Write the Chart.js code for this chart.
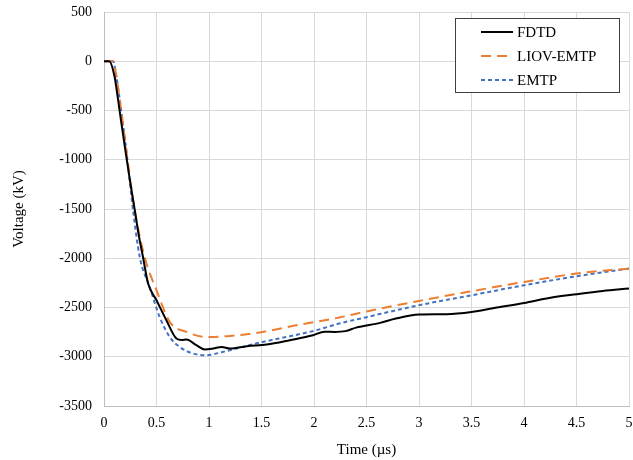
<!DOCTYPE html>
<html>
<head>
<meta charset="utf-8">
<script src="https://cdn.jsdelivr.net/npm/chart.js@4.4.1/dist/chart.umd.min.js"></script>
<style>
  html, body { margin: 0; padding: 0; background: #fff; }
  #wrap { width: 633px; height: 460px; }
</style>
</head>
<body>
<div id="wrap"><canvas id="myCanvas" width="633" height="460"></canvas></div>
<script>
// values (time in us, voltage in kV)
var fdtdTime = [0, 0.05, 0.1, 0.134, 0.166, 0.21, 0.25, 0.292, 0.33, 0.371, 0.42, 0.5, 0.594, 0.69, 0.74, 0.785, 0.88, 0.96, 1.04, 1.12, 1.2, 1.36, 1.55, 1.77, 1.99, 2.1, 2.2, 2.3, 2.4, 2.63, 2.78, 3.0, 3.26, 3.5, 3.74, 4.0, 4.24, 4.5, 4.75, 5.0];
var fdtdVolt = [0, 0, -153, -390, -630, -950, -1230, -1505, -1760, -1985, -2257, -2426, -2629, -2815, -2830, -2826, -2883, -2927, -2917, -2900, -2917, -2893, -2876, -2832, -2782, -2745, -2748, -2740, -2704, -2656, -2612, -2572, -2568, -2545, -2500, -2454, -2403, -2365, -2332, -2307];

var liovTime = [0, 0.086, 0.118, 0.15, 0.18, 0.22, 0.245, 0.31, 0.39, 0.5, 0.626, 0.785, 0.975, 1.2, 1.51, 1.83, 2.24, 2.5, 3.0, 3.5, 4.0, 4.5, 5.0];
var liovVolt = [0, 0, -153, -390, -630, -970, -1175, -1615, -2000, -2325, -2646, -2748, -2799, -2789, -2748, -2680, -2602, -2540, -2433, -2335, -2241, -2155, -2105];

var emtpTime = [0, 0.086, 0.118, 0.15, 0.18, 0.22, 0.276, 0.34, 0.435, 0.53, 0.626, 0.72, 0.85, 0.975, 1.13, 1.32, 1.51, 1.77, 2.02, 2.24, 2.5, 3.0, 3.5, 4.0, 4.5, 5.0];
var emtpVolt = [0, 0, -153, -390, -630, -970, -1505, -1985, -2291, -2596, -2799, -2900, -2968, -2985, -2951, -2900, -2850, -2792, -2731, -2663, -2598, -2477, -2376, -2274, -2183, -2105];

var seriesNames = ['FDTD', 'LIOV-EMTP', 'EMTP'];

function pts(t, v){
	return t.map(function(x, i){ return {x: x, y: v[i]}; });
}

var fontFam = '"Liberation Serif", "Times New Roman", serif';

// draws the boxed legend in the top right of the plot
var boxLegend = {
	id: 'boxLegend',
	afterDraw: function(chart){
		var ctx = chart.ctx;
		var bx = 455.5, by = 18.5, bw = 164, bh = 74;
		ctx.save();
		ctx.fillStyle = '#fff';
		ctx.fillRect(bx, by, bw, bh);
		ctx.strokeStyle = '#404040';
		ctx.lineWidth = 1;
		ctx.strokeRect(bx, by, bw, bh);
		ctx.font = '15px ' + fontFam;
		ctx.textBaseline = 'middle';
		chart.data.datasets.forEach(function(ds, i){
			var y = 32 + i * 24;
			ctx.beginPath();
			ctx.setLineDash(ds.borderDash || []);
			ctx.strokeStyle = ds.borderColor;
			ctx.lineWidth = ds.borderWidth;
			ctx.moveTo(481, y);
			ctx.lineTo(513, y);
			ctx.stroke();
			ctx.setLineDash([]);
			ctx.fillStyle = '#000';
			ctx.fillText(ds.label, 517, y + 1);
		});
		ctx.restore();
	}
};

var ctx = document.getElementById('myCanvas').getContext('2d');
var myChart = new Chart(ctx, {
	type: 'line',
	data: {
		datasets: [{
			label: seriesNames[0],
			data: pts(fdtdTime, fdtdVolt),
			borderColor: '#000000',
			borderWidth: 2,
			pointRadius: 0,
			cubicInterpolationMode: 'monotone'
		}, {
			label: seriesNames[1],
			data: pts(liovTime, liovVolt),
			borderColor: '#ED7D31',
			borderWidth: 2,
			borderDash: [10, 6],
			pointRadius: 0,
			cubicInterpolationMode: 'monotone'
		}, {
			label: seriesNames[2],
			data: pts(emtpTime, emtpVolt),
			borderColor: '#4472C4',
			borderWidth: 2,
			borderDash: [4, 3],
			pointRadius: 0,
			cubicInterpolationMode: 'monotone'
		}]
	},
	options: {
		responsive: false,
		animation: false,
		layout: { padding: 0 },
		plugins: {
			legend: { display: false },
			tooltip: { enabled: false }
		},
		scales: {
			x: {
				type: 'linear',
				min: 0,
				max: 5,
				ticks: {
					stepSize: 0.5, color: '#000', padding: 9, maxRotation: 0,
					font: { family: fontFam, size: 14 },
					callback: function(v){ return String(v); }
				},
				grid: { color: '#d9d9d9', drawTicks: false },
				border: { color: '#bfbfbf' },
				title: { display: true, text: 'Time (\u00b5s)', color: '#000', padding: { top: 4, bottom: 1 }, font: { family: fontFam, size: 15 } },
				afterFit: function(s){ s.height = 54; s.paddingLeft = 0; s.paddingRight = 4; }
			},
			y: {
				min: -3500,
				max: 500,
				ticks: {
					stepSize: 500, color: '#000', padding: 12,
					font: { family: fontFam, size: 14 },
					callback: function(v){ return String(v); }
				},
				grid: { color: '#d9d9d9', drawTicks: false },
				border: { color: '#bfbfbf' },
				title: { display: true, text: 'Voltage (kV)', color: '#000', padding: { bottom: 0, top: 10 }, font: { family: fontFam, size: 15 } },
				afterFit: function(s){ s.width = 104; s.paddingTop = 12; s.paddingBottom = 0; }
			}
		}
	},
	plugins: [boxLegend]
});
</script>
</body>
</html>
